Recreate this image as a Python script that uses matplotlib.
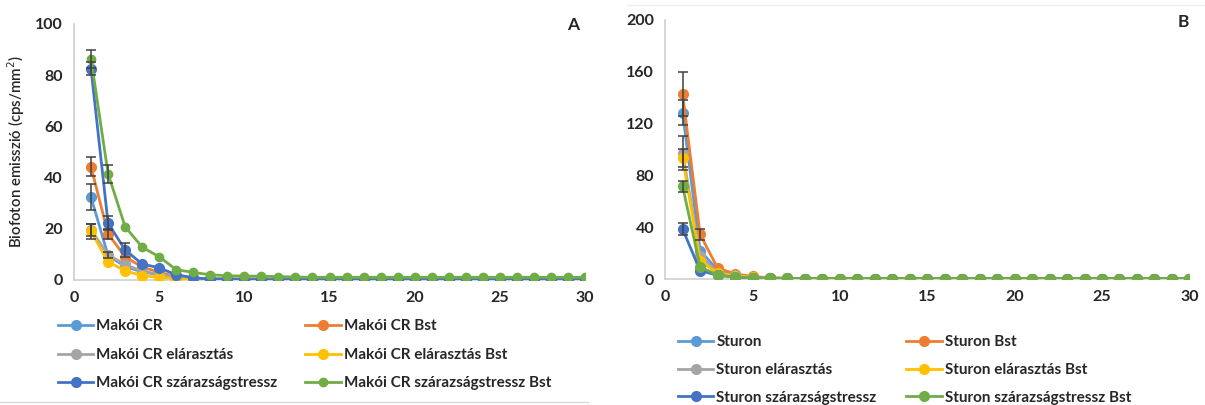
import numpy as np
import matplotlib
matplotlib.use("Agg")
import matplotlib.pyplot as plt
from matplotlib.lines import Line2D

plt.rcParams['font.family'] = ['Lato', 'DejaVu Sans']

days = list(range(1, 31))

# panel A - Makói CR
labels_a = ['Makói CR', 'Makói CR Bst', 'Makói CR elárasztás', 'Makói CR elárasztás Bst',
            'Makói CR szárazságstressz', 'Makói CR szárazságstressz Bst']
mcr = [32.3, 9.5, 5.2, 3.1, 2.0, 1.0, 0.6, 0.4, 0.3, 0.3, 0.3, 0.3, 0.2, 0.2, 0.2,
       0.2, 0.2, 0.2, 0.2, 0.2, 0.2, 0.2, 0.2, 0.2, 0.2, 0.2, 0.2, 0.2, 0.2, 0.2]
mcr_bst = [44.2, 18.0, 9.0, 5.0, 3.0, 1.2, 0.7, 0.5, 0.4, 0.3, 0.3, 0.3, 0.3, 0.3, 0.3,
           0.3, 0.3, 0.3, 0.3, 0.3, 0.3, 0.3, 0.3, 0.3, 0.3, 0.3, 0.3, 0.3, 0.3, 0.3]
mcr_el = [19.5, 9.8, 6.0, 3.4, 2.2, 1.0, 0.6, 0.4, 0.3, 0.3, 0.2, 0.2, 0.2, 0.2, 0.2,
          0.2, 0.2, 0.2, 0.2, 0.2, 0.2, 0.2, 0.2, 0.2, 0.2, 0.2, 0.2, 0.2, 0.2, 0.2]
mcr_el_bst = [19.0, 7.0, 3.6, 1.6, 1.0, 0.4, 0.2, 0.2, 0.1, 0.1, 0.1, 0.1, 0.1, 0.1, 0.1,
              0.1, 0.1, 0.1, 0.1, 0.1, 0.1, 0.1, 0.1, 0.1, 0.1, 0.1, 0.1, 0.1, 0.1, 0.1]
mcr_sz = [82.5, 22.2, 11.7, 6.2, 4.7, 2.0, 0.8, 0.3, 0.2, 0.1, 0.1, 0.1, 0.1, 0.1, 0.1,
          0.1, 0.1, 0.1, 0.1, 0.1, 0.1, 0.1, 0.1, 0.1, 0.1, 0.1, 0.1, 0.1, 0.1, 0.1]
mcr_sz_bst = [86.3, 41.5, 20.8, 12.8, 9.0, 4.0, 2.9, 2.0, 1.6, 1.5, 1.4, 1.3, 1.1, 1.0, 1.0,
              1.0, 1.0, 1.0, 1.0, 1.0, 1.0, 1.0, 1.0, 1.0, 1.0, 1.0, 1.0, 1.0, 1.0, 1.0]
# standard errors for the first days only
err_a = [
    [5.0],
    [3.8, 2.0],
    [2.5, 1.2],
    [3.0],
    [2.5, 2.8, 2.8],
    [3.5, 3.5],
]

# panel B - Sturon
labels_b = ['Sturon', 'Sturon Bst', 'Sturon elárasztás', 'Sturon elárasztás Bst',
            'Sturon szárazságstressz', 'Sturon szárazságstressz Bst']
st = [128.5, 22.0, 7.0, 3.5, 1.5, 0.8, 0.5, 0.4, 0.3, 0.3, 0.3, 0.3, 0.3, 0.3, 0.3,
      0.3, 0.3, 0.3, 0.3, 0.3, 0.3, 0.3, 0.3, 0.3, 0.3, 0.3, 0.3, 0.3, 0.3, 0.3]
st_bst = [142.5, 34.5, 8.5, 4.0, 2.0, 1.0, 0.5, 0.4, 0.3, 0.3, 0.3, 0.3, 0.3, 0.3, 0.3,
          0.3, 0.3, 0.3, 0.3, 0.3, 0.3, 0.3, 0.3, 0.3, 0.3, 0.3, 0.3, 0.3, 0.3, 0.3]
st_el = [97.5, 18.0, 5.0, 3.0, 1.5, 0.8, 0.5, 0.4, 0.3, 0.3, 0.3, 0.3, 0.3, 0.3, 0.3,
         0.3, 0.3, 0.3, 0.3, 0.3, 0.3, 0.3, 0.3, 0.3, 0.3, 0.3, 0.3, 0.3, 0.3, 0.3]
st_el_bst = [93.5, 14.0, 4.5, 2.5, 1.2, 0.6, 0.4, 0.3, 0.3, 0.3, 0.3, 0.3, 0.3, 0.3, 0.3,
             0.3, 0.3, 0.3, 0.3, 0.3, 0.3, 0.3, 0.3, 0.3, 0.3, 0.3, 0.3, 0.3, 0.3, 0.3]
st_sz = [38.5, 6.5, 3.0, 1.5, 0.8, 0.5, 0.4, 0.3, 0.3, 0.3, 0.3, 0.3, 0.3, 0.3, 0.3,
         0.3, 0.3, 0.3, 0.3, 0.3, 0.3, 0.3, 0.3, 0.3, 0.3, 0.3, 0.3, 0.3, 0.3, 0.3]
st_sz_bst = [71.5, 9.5, 3.0, 1.5, 1.0, 0.6, 0.5, 0.4, 0.4, 0.4, 0.4, 0.4, 0.4, 0.4, 0.4,
             0.4, 0.4, 0.4, 0.4, 0.4, 0.4, 0.4, 0.4, 0.4, 0.4, 0.4, 0.4, 0.4, 0.4, 0.4]
err_b = [
    [10.0],
    [17.0, 4.0],
    [13.0],
    [7.0],
    [4.5],
    [4.5],
]

colors = ['#5B9BD5', '#ED7D31', '#A5A5A5', '#FFC000', '#4472C4', '#70AD47']


def draw_panel(ax, series, errs, labels, ymax, yticks, tag, tag_xy, msizes):
    for vals, err, lab, col, ms in zip(series, errs, labels, colors, msizes):
        ax.plot(days, vals, '-o', color=col, lw=2.0, ms=ms, label=lab, zorder=3)
        n = len(err)
        ax.errorbar(days[:n], vals[:n], yerr=err, fmt='none', ecolor='#404040',
                    elinewidth=1.1, capsize=3.5, capthick=1.1, zorder=4)
    ax.set_xlim(0, 30)
    ax.set_ylim(0, ymax)
    ax.set_xticks(range(0, 31, 5))
    ax.set_yticks(yticks)
    for s in ['top', 'right']:
        ax.spines[s].set_visible(False)
    for s in ['left', 'bottom']:
        ax.spines[s].set_color('#d0d0d0')
        ax.spines[s].set_linewidth(1.2)
    ax.tick_params(length=0, pad=8, labelsize=11.5, colors='#262626')
    for t in ax.get_xticklabels() + ax.get_yticklabels():
        t.set_fontweight('bold')
    ax.text(tag_xy[0], tag_xy[1], tag, transform=ax.transAxes, ha='center', va='center',
            fontsize=12.5, fontweight='bold', color='#262626')


fig = plt.figure(figsize=(12.05, 4.05), dpi=100)
ax1 = fig.add_axes([0.0614, 0.309, 0.4241, 0.632])
ax2 = fig.add_axes([0.552, 0.311, 0.435, 0.640])

draw_panel(ax1, [mcr, mcr_bst, mcr_el, mcr_el_bst, mcr_sz, mcr_sz_bst], err_a, labels_a,
           100, range(0, 101, 20), 'A', (0.977, 0.995), [7, 7, 7, 7, 7, 6])
draw_panel(ax2, [st, st_bst, st_el, st_el_bst, st_sz, st_sz_bst], err_b, labels_b,
           200, range(0, 201, 40), 'B', (0.989, 0.99), [7, 7, 7, 7, 7, 7])

ax1.set_ylabel('Biofoton emisszió (cps/mm$^2$)', fontsize=10.8, fontweight='semibold',
               color='#262626', labelpad=6)

leg_kw = dict(ncol=2, frameon=False, handlelength=2.3, handletextpad=0.2,
              borderpad=0, borderaxespad=0,
              prop={'size': 11.0, 'weight': 'bold'}, labelcolor='#262626',
              loc='center left', bbox_transform=fig.transFigure)
order = [0, 2, 4, 1, 3, 5]
h1, l1 = ax1.get_legend_handles_labels()
ax1.legend([h1[i] for i in order], [l1[i] for i in order],
           bbox_to_anchor=(0.0481, 0.1235), columnspacing=1.83, labelspacing=0.95, **leg_kw)
h2, l2 = ax2.get_legend_handles_labels()
ax2.legend([h2[i] for i in order], [l2[i] for i in order],
           bbox_to_anchor=(0.5627, 0.0864), columnspacing=1.96, labelspacing=0.9, **leg_kw)

# thin frame lines of the pasted chart pictures
fig.add_artist(Line2D([0.0, 0.488], [0.0074, 0.0074], color='#d9d9d9', lw=1,
                      transform=fig.transFigure))
fig.add_artist(Line2D([0.52, 1.0], [0.988, 0.988], color='#eeeeee', lw=1,
                      transform=fig.transFigure))

fig.savefig('out.png', dpi=100)
